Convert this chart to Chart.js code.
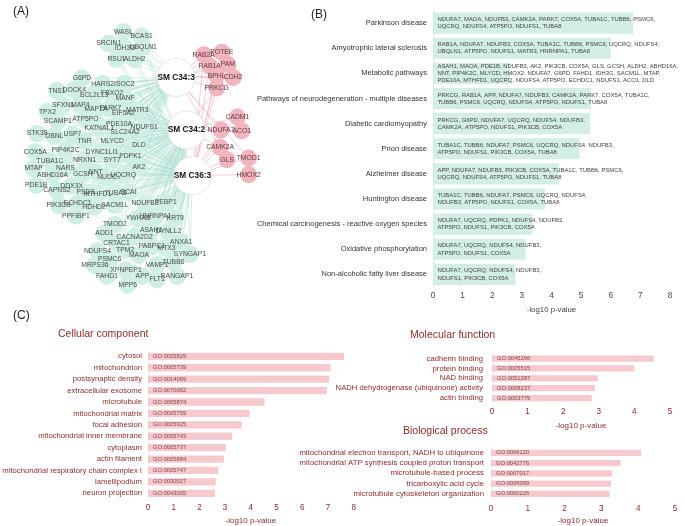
<!DOCTYPE html>
<html><head><meta charset="utf-8">
<script src="https://cdn.jsdelivr.net/npm/chart.js@4/dist/chart.umd.min.js"></script>
<style>
html,body{margin:0;padding:0;background:#fff}
body{width:685px;height:526px;position:relative;overflow:hidden;font-family:"Liberation Sans",Arial,sans-serif}
canvas{position:absolute}
.pl{position:absolute;font-size:12px;color:#222;line-height:1}
.sec{position:absolute;font-size:10.5px;color:#8f2a2a;line-height:1}
</style></head><body>
<canvas id="cA" width="290" height="316" style="left:0;top:0"></canvas>
<canvas id="cB" width="440" height="320" style="left:245px;top:0"></canvas>
<canvas id="cCC" width="360" height="186" style="left:0;top:340px"></canvas>
<canvas id="cMF" width="415" height="91" style="left:270px;top:340px"></canvas>
<canvas id="cBP" width="415" height="90" style="left:270px;top:436px"></canvas>
<div class="pl" style="left:13px;top:5px">(A)</div>
<div class="pl" style="left:311px;top:8px">(B)</div>
<div class="pl" style="left:13px;top:309px">(C)</div>
<div class="sec" style="left:58px;top:328px">Cellular component</div>
<div class="sec" style="left:410px;top:329px">Molecular function</div>
<div class="sec" style="left:403px;top:425px">Biological process</div>
<script>
// ---------------- Panel A: network layout data ----------------
const hubNames = ["SM C34:3", "SM C34:2", "SM C36:3"];
const hubX = [181, 193, 200];
const hubY = [66, 126, 178];

const tealNames = ["WASL","BCAS1","SRCIN1","IDH3G","UBQLN1","RSU1","ALDH2","G6PD","HARS2","ISOC2","TNS1","DOCK4","BCL2L13","FBXO2","SFXN1","MAP4","MANF","TPX2","MAP1A","PARK7","EIF5A2","MATR3","SCAMP1","ATP5PO","PDE10A","KATNAL1","NDUFS1","SLC24A2","STK39","DBNL","USP7","TNR","MLYCD","DLD","COX5A","PIP4K2C","DYNC1LI1","TUBA1C","NRXN1","SYT7","PDPK1","MTAP","NARS","ABHD16A","GCSH","NNT","NUDC","UQCRQ","AK2","PDE1B","CAPNS2","DDX3X","PSD3","MTHFD1","TUBA8","SCAI","PIK3CB","ECHDC1","HDHD2","SACM1L","PPFIBP1","NDUFB3","PEBP1","YWHAB","HNRNPA1","KRT9","TMOD2","ADD1","ASAH1","DYNLL2","CACNA2D2","CRTAC1","ANXA1","NDUFS4","TPM2","PABPC1","MTX3","SYNGAP1","MAOA","PSMC6","MRPS36","VAMP1","TUBB6","XPNPEP1","FAHD1","APP","RANGAP1","FLT1","MPP6"];
const tealX = [120,141,103,122,143,112,133,72,96,121,43,63,86,107,50,70,122,32,88,105,120,136,44,76,115,92,144,122,20,40,61,75,107,138,18,53,95,35,75,107,128,16,53,38,73,88,101,120,138,19,43,60,76,90,111,126,45,67,86,110,65,145,169,137,157,180,110,98,152,172,133,112,187,90,122,153,170,197,138,104,87,159,178,123,101,142,182,159,125];
const tealY = [14,19,27,32,31,45,45,67,73,73,81,80,86,84,98,97,90,105,102,101,107,103,116,113,119,124,123,128,130,133,131,139,139,143,151,149,151,161,160,160,156,170,169,177,176,174,180,177,168,189,195,190,197,199,198,197,212,210,214,212,224,210,209,227,224,227,234,244,240,242,248,255,254,264,263,259,261,268,269,274,281,280,277,286,293,293,293,297,303];
const tealLinks = ["13","13","13","13","13","13","13","123","123","123","123","123","123","123","123","123","123","123","123","123","123","123","123","123","123","123","123","123","123","123","123","123","123","123","123","123","123","123","123","123","123","123","123","123","123","123","123","123","123","123","123","123","123","123","123","123","123","123","123","123","123","23","23","23","23","23","23","23","23","23","23","23","23","23","23","23","23","23","23","23","23","23","23","23","23","23","23","23","23"];

const pinkNames = ["RAB2A","POTEE","RAB1A","PAM","BPHL","CDH2","PRKCG","CADM1","NDUFA7","ACO1","CAMK2A","GLS","TMOD1","HMOX2"];
const pinkX = [213,234,220,241,228,247,228,252,233,257,232,240,265,265];
const pinkY = [40,37,53,51,64,66,78,111,126,127,146,160,158,177];
const pinkLinks = ["13","13","13","1","13","1","123","23","123","2","123","3","13","3"];

// ---------------- Panel B data ----------------
const keggTerms = ["Parkinson disease","Amyotrophic lateral sclerosis","Metabolic pathways","Pathways of neurodegeneration - multiple diseases","Diabetic cardiomyopathy","Prion disease","Alzheimer disease","Huntington disease","Chemical carcinogenesis - reactive oxygen species","Oxidative phosphorylation","Non-alcoholic fatty liver disease"];
const keggValues = [6.76, 6.0, 2.6, 5.33, 5.3, 4.95, 4.26, 3.78, 3.36, 3.12, 2.78];
const keggGenes = [
 ["NDUFA7, MAOA, NDUFB3, CAMK2A, PARK7, COX5A, TUBA1C, TUBB6, PSMC6,","UQCRQ, NDUFS4, ATP5PO, NDUFS1, TUBA8"],
 ["RAB1A, NDUFA7, NDUFB3, COX5A, TUBA1C, TUBB6, PSMC6, UQCRQ, NDUFS4,","UBQLN1, ATP5PO, NDUFS1, MATR3, HNRNPA1, TUBA8"],
 ["ASAH1, MAOA, PDE1B, NDUFB3, AK2, PIK3CB, COX5A, GLS, GCSH, ALDH2, ABHD16A,","NNT, PIP4K2C, MLYCD, HMOX2, NDUFA7, G6PD, FAHD1, IDH3G, SACM1L, MTAP,","PDE10A, MTHFD1, UQCRQ, NDUFS4, ATP5PO, ECHDC1, NDUFS1, ACO1, DLD"],
 ["PRKCG, RAB1A, APP, NDUFA7, NDUFB3, CAMK2A, PARK7, COX5A, TUBA1C,","TUBB6, PSMC6, UQCRQ, NDUFS4, ATP5PO, NDUFS1, TUBA8"],
 ["PRKCG, G6PD, NDUFA7, UQCRQ, NDUFS4, NDUFB3,","CAMK2A, ATP5PO, NDUFS1, PIK3CB, COX5A"],
 ["TUBA1C, TUBB6, NDUFA7, PSMC6, UQCRQ, NDUFS4, NDUFB3,","ATP5PO, NDUFS1, PIK3CB, COX5A, TUBA8"],
 ["APP, NDUFA7, NDUFB3, PIK3CB, COX5A, TUBA1C, TUBB6, PSMC6,","UQCRQ, NDUFS4, ATP5PO, NDUFS1, TUBA8"],
 ["TUBA1C, TUBB6, NDUFA7, PSMC6, UQCRQ, NDUFS4,","NDUFB3, ATP5PO, NDUFS1, COX5A, TUBA8"],
 ["NDUFA7, UQCRQ, PDPK1, NDUFS4, NDUFB3,","ATP5PO, NDUFS1, PIK3CB, COX5A"],
 ["NDUFA7, UQCRQ, NDUFS4, NDUFB3,","ATP5PO, NDUFS1, COX5A"],
 ["NDUFA7, UQCRQ, NDUFS4, NDUFB3,","NDUFS1, PIK3CB, COX5A"]
];

// ---------------- Panel C data ----------------
const ccTerms = ["cytosol","mitochondrion","postsynaptic density","extracellular exosome","microtubule","mitochondrial matrix","focal adhesion","mitochondrial inner membrane","cytoplasm","actin filament","mitochondrial respiratory chain complex I","lamellipodium","neuron projection"];
const ccValues = [7.62, 7.1, 7.04, 6.95, 4.53, 3.95, 3.65, 3.27, 3.02, 2.95, 2.73, 2.63, 2.6];
const ccIds = ["GO:0005829","GO:0005739","GO:0014069","GO:0070062","GO:0005874","GO:0005759","GO:0005925","GO:0005743","GO:0005737","GO:0005884","GO:0005747","GO:0030027","GO:0043005"];

const mfTerms = ["cadherin binding","protein binding","NAD binding","NADH dehydrogenase (ubiquinone) activity","actin binding"];
const mfValues = [4.54, 4.0, 2.97, 2.89, 2.8];
const mfIds = ["GO:0045296","GO:0005515","GO:0051287","GO:0008137","GO:0003779"];

const bpTerms = ["mitochondrial electron transport, NADH to ubiquinone","mitochondrial ATP synthesis coupled proton transport","microtubule-based process","tricarboxylic acid cycle","microtubule cytoskeleton organization"];
const bpValues = [4.08, 3.52, 3.29, 3.26, 3.22];
const bpIds = ["GO:0006120","GO:0042776","GO:0007017","GO:0006099","GO:0000226"];

// ---------------- common ----------------
const FAM = '"Liberation Sans", Arial, sans-serif';
Chart.defaults.font.family = FAM;
Chart.defaults.animation = false;
Chart.defaults.devicePixelRatio = 1;

// ---------------- Panel A chart ----------------
function edgeData(xs, ys, links) {
  const d = [];
  links.forEach((l, i) => {
    for (const c of l) {
      const h = +c - 1;
      d.push({x: xs[i], y: ys[i]}, {x: hubX[h], y: hubY[h]}, {x: null, y: null});
    }
  });
  return d;
}
const nodeLabelPlugin = {
  id: 'nodeLabels',
  afterDatasetsDraw(chart) {
    const ctx = chart.ctx, sx = chart.scales.x, sy = chart.scales.y;
    ctx.save();
    ctx.textAlign = 'center'; ctx.textBaseline = 'middle';
    ctx.font = '6.8px ' + FAM; ctx.fillStyle = '#4a4a4a';
    tealNames.forEach((n, i) => ctx.fillText(n, sx.getPixelForValue(tealX[i]), sy.getPixelForValue(tealY[i])));
    ctx.fillStyle = '#5a3a3e';
    pinkNames.forEach((n, i) => ctx.fillText(n, sx.getPixelForValue(pinkX[i]), sy.getPixelForValue(pinkY[i])));
    ctx.font = 'bold 8.3px ' + FAM; ctx.fillStyle = '#111';
    hubNames.forEach((n, i) => ctx.fillText(n, sx.getPixelForValue(hubX[i]), sy.getPixelForValue(hubY[i])));
    ctx.restore();
  }
};
new Chart(document.getElementById('cA'), {
  type: 'scatter',
  data: { datasets: [
    { type: 'bubble', data: hubX.map((x, i) => ({x, y: hubY[i], r: 19})), backgroundColor: '#ffffff', borderColor: '#e0e0e0', borderWidth: 0.8, order: 0, clip: false },
    { type: 'bubble', data: pinkX.map((x, i) => ({x, y: pinkY[i], r: 8.5})), backgroundColor: '#f2b4be', borderWidth: 0, order: 1, clip: false },
    { type: 'bubble', data: tealX.map((x, i) => ({x, y: tealY[i], r: 8.8})), backgroundColor: '#cfeee6', borderWidth: 0, order: 2, clip: false },
    { type: 'scatter', showLine: true, spanGaps: false, data: edgeData(pinkX, pinkY, pinkLinks), borderColor: 'rgba(240,172,184,0.85)', borderWidth: 0.7, pointRadius: 0, order: 3, clip: false },
    { type: 'scatter', showLine: true, spanGaps: false, data: edgeData(tealX, tealY, tealLinks), borderColor: 'rgba(165,218,206,0.7)', borderWidth: 0.6, pointRadius: 0, order: 4, clip: false }
  ]},
  options: {
    responsive: false, events: [], layout: {padding: 0},
    plugins: {legend: {display: false}, tooltip: {enabled: false}},
    scales: {
      x: {type: 'linear', min: 0, max: 290, display: false},
      y: {type: 'linear', min: 0, max: 316, reverse: true, display: false}
    }
  },
  plugins: [nodeLabelPlugin]
});

// ---------------- bar chart helper ----------------
function barTextPlugin(lines, font, color, offset, lh) {
  return {
    id: 'barText',
    afterDatasetsDraw(chart) {
      const meta = chart.getDatasetMeta(0), ctx = chart.ctx;
      const x0 = chart.scales.x.getPixelForValue(0) + offset;
      ctx.save(); ctx.font = font; ctx.fillStyle = color; ctx.textBaseline = 'middle'; ctx.textAlign = 'left';
      meta.data.forEach((bar, i) => {
        const L = lines[i], n = L.length;
        L.forEach((t, j) => ctx.fillText(t, x0, bar.y + (j - (n - 1) / 2) * lh));
      });
      ctx.restore();
    }
  };
}
function hbar(id, o) {
  return new Chart(document.getElementById(id), {
    type: 'bar',
    data: { labels: o.labels, datasets: [{ data: o.values, backgroundColor: o.barColor, borderWidth: 0, barPercentage: o.bp, categoryPercentage: 1 }] },
    options: {
      indexAxis: 'y', responsive: false, events: [],
      layout: { padding: o.pad },
      plugins: { legend: {display: false}, tooltip: {enabled: false} },
      scales: {
        y: { grid: {display: false, drawTicks: false}, border: {color: o.axisLine, width: 1},
             ticks: {color: o.labelColor, font: {size: o.labelSize}, padding: o.labelPad, autoSkip: false},
             afterFit(s) { s.width = o.yWidth; } },
        x: { min: 0, max: o.max, grid: {display: false, drawTicks: false}, border: {display: false},
             ticks: {stepSize: 1, color: o.tickColor, font: {size: o.tickSize}, padding: o.tickPad},
             title: {display: true, text: '-log10 p-value', color: o.tickColor, font: {size: o.titleSize}, padding: {top: 0, bottom: o.titlePad}},
             afterFit(s) { s.height = o.xHeight; } }
      }
    },
    plugins: [barTextPlugin(o.inner, o.innerFont, o.innerColor, o.innerOffset, o.innerLh)]
  });
}

// Panel B
hbar('cB', {
  labels: keggTerms, values: keggValues, barColor: '#d3ede7', bp: 0.84,
  pad: {top: 1, right: 15, bottom: 0, left: 0}, axisLine: '#e3e3e3',
  labelColor: '#333', labelSize: 7.5, labelPad: 6, yWidth: 188,
  max: 8, tickColor: '#444', tickSize: 8.3, tickPad: 4, titleSize: 7.8, titlePad: 5, xHeight: 33,
  inner: keggGenes, innerFont: '5.9px ' + FAM, innerColor: '#444', innerOffset: 4.5, innerLh: 7.2
});

const red = '#8f2a2a';
// Cellular component
hbar('cCC', {
  labels: ccTerms, values: ccValues, barColor: '#f5c9ce', bp: 0.64,
  pad: {top: 9, right: 5, bottom: 0, left: 0}, axisLine: '#eeeeee',
  labelColor: red, labelSize: 7.7, labelPad: 6, yWidth: 148,
  max: 8, tickColor: red, tickSize: 8.2, tickPad: 4, titleSize: 8, titlePad: 0, xHeight: 27,
  inner: ccIds.map(s => [s]), innerFont: '5.8px ' + FAM, innerColor: '#8a4545', innerOffset: 5, innerLh: 7
});
// Molecular function
hbar('cMF', {
  labels: mfTerms, values: mfValues, barColor: '#f5c9ce', bp: 0.64,
  pad: {top: 9, right: 15, bottom: 0, left: 0}, axisLine: '#eeeeee',
  labelColor: red, labelSize: 7.7, labelPad: 9, yWidth: 222,
  max: 5, tickColor: red, tickSize: 8.2, tickPad: 4, titleSize: 8, titlePad: 0, xHeight: 28,
  inner: mfIds.map(s => [s]), innerFont: '5.8px ' + FAM, innerColor: '#8a4545', innerOffset: 5, innerLh: 7
});
// Biological process
hbar('cBP', {
  labels: bpTerms, values: bpValues, barColor: '#f5c9ce', bp: 0.62,
  pad: {top: 10, right: 10, bottom: 0, left: 0}, axisLine: '#eeeeee',
  labelColor: red, labelSize: 7.8, labelPad: 7, yWidth: 221,
  max: 5, tickColor: red, tickSize: 8.2, tickPad: 5, titleSize: 8, titlePad: 0, xHeight: 27,
  inner: bpIds.map(s => [s]), innerFont: '5.8px ' + FAM, innerColor: '#8a4545', innerOffset: 5, innerLh: 7
});
</script>
</body></html>
